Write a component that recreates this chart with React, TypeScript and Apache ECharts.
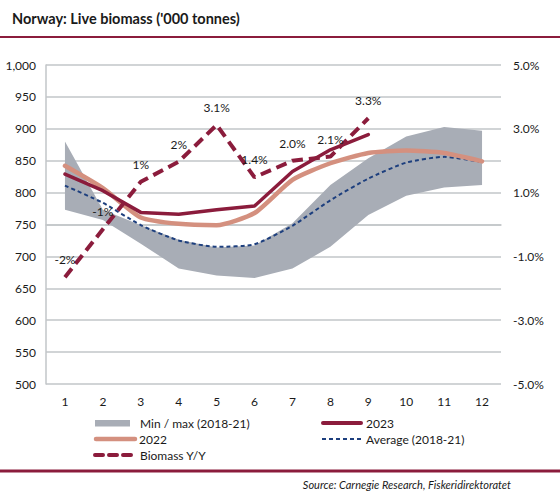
import React, { useEffect, useRef } from "react";
import * as echarts from "echarts";

const months = ["1", "2", "3", "4", "5", "6", "7", "8", "9", "10", "11", "12"];
const bandMax = [880, 773, 749, 726, 714, 717, 752, 812, 854, 888, 903, 897];
const bandMin = [773, 757, 720, 681, 670, 666, 681, 715, 765, 795, 808, 812];
const average = [811, 784, 749, 725, 715, 719, 748, 788, 822, 847, 856, 848];
const y2022 = [842, 807, 761, 751, 749, 768, 820, 846, 862, 866, 862, 849];
const y2023 = [829, 803, 769, 766, 773, 779, 833, 867, 891, null, null, null];
const biomassYY = [-1.65, -0.15, 1.34, 1.97, 3.12, 1.48, 2.0, 2.13, 3.33, null, null, null];
const yyLabels = ["-2%", "-1%", "1%", "2%", "3.1%", "1.4%", "2.0%", "2.1%", "3.3%"];

const MAROON = "#8b1c3c";
const SALMON = "#d4907f";
const NAVY = "#1d3f7e";
const GREY = "#a8adb6";
const GRID = "#c2c6c9";
const FONT = "Lato, 'Open Sans', sans-serif";

export default function App() {
  const ref = useRef<HTMLDivElement>(null);
  useEffect(() => {
    if (!ref.current) return;
    const chart = echarts.init(ref.current, undefined, { renderer: "svg" });
    const range = bandMax.map((v, i) => v - bandMin[i]);
    const txt = (text: string, x: number, y: number, extra: any = {}) => ({
      type: "text",
      style: {
        text,
        x,
        y,
        fill: "#1a1a1a",
        font: `12px ${FONT}`,
        verticalAlign: "middle",
        align: "left",
        ...extra,
      },
    });
    chart.setOption({
      animation: false,
      backgroundColor: "#ffffff",
      textStyle: { fontFamily: FONT },
      grid: { left: 46, right: 59, top: 65, bottom: 118, containLabel: false },
      xAxis: {
        type: "category",
        data: months,
        boundaryGap: true,
        axisTick: { show: false },
        axisLine: { show: true, lineStyle: { color: GRID, width: 1.5 } },
        axisLabel: { color: "#1a1a1a", fontSize: 12, margin: 11, fontFamily: FONT },
      },
      yAxis: [
        {
          type: "value",
          min: 500,
          max: 1000,
          interval: 50,
          axisLine: { show: true, lineStyle: { color: GRID, width: 1.5 } },
          axisTick: { show: false },
          splitLine: { show: true, lineStyle: { color: GRID, width: 1.5 } },
          axisLabel: {
            color: "#1a1a1a",
            fontSize: 12,
            margin: 10,
            fontFamily: FONT,
            formatter: (v: number) => v.toLocaleString("en-US"),
          },
        },
        {
          type: "value",
          min: -5,
          max: 5,
          interval: 1,
          axisLine: { show: false },
          axisTick: { show: false },
          splitLine: { show: false },
          axisLabel: {
            color: "#1a1a1a",
            fontSize: 12,
            margin: 12,
            fontFamily: FONT,
            formatter: (v: number) => (Math.round(v) % 2 !== 0 ? v.toFixed(1) + "%" : ""),
          },
        },
      ],
      series: [
        {
          name: "Min",
          type: "line",
          data: bandMin,
          stack: "band",
          symbol: "none",
          silent: true,
          lineStyle: { width: 0, opacity: 0 },
          z: 1,
        },
        {
          name: "Min / max (2018-21)",
          type: "line",
          data: range,
          stack: "band",
          symbol: "none",
          silent: true,
          lineStyle: { width: 0, opacity: 0 },
          areaStyle: { color: GREY, opacity: 1 },
          z: 1,
        },
        {
          name: "Average (2018-21)",
          type: "line",
          data: average,
          symbol: "none",
          smooth: 0.2,
          lineStyle: { color: NAVY, width: 2, type: [4, 3] },
          z: 3,
        },
        {
          name: "2022",
          type: "line",
          data: y2022,
          symbol: "none",
          smooth: 0.2,
          lineStyle: { color: SALMON, width: 4.5, cap: "round" },
          z: 4,
        },
        {
          name: "2023",
          type: "line",
          data: y2023,
          symbol: "none",
          lineStyle: { color: MAROON, width: 3.5, cap: "round" },
          z: 5,
        },
        {
          name: "Biomass Y/Y",
          type: "line",
          yAxisIndex: 1,
          data: biomassYY,
          symbol: "circle",
          symbolSize: 1,
          itemStyle: { color: "transparent", borderWidth: 0 },
          lineStyle: { color: MAROON, width: 4, type: [11, 6] },
          label: {
            show: true,
            position: "top",
            distance: 11,
            color: "#1a1a1a",
            fontSize: 12,
            fontFamily: FONT,
            formatter: (p: any) => yyLabels[p.dataIndex] ?? "",
          },
          z: 6,
        },
      ],
      graphic: [
        txt("Norway: Live biomass ('000 tonnes)", 12, 18, { font: `bold 14.5px ${FONT}` }),
        {
          type: "line",
          shape: { x1: 0, y1: 37, x2: 560, y2: 37 },
          style: { stroke: MAROON, lineWidth: 2 },
        },
        {
          type: "line",
          shape: { x1: 0, y1: 471, x2: 560, y2: 471 },
          style: { stroke: MAROON, lineWidth: 3 },
        },
        txt("Source: Carnegie Research, Fiskeridirektoratet", 511, 484, {
          font: `italic 11px ${FONT}`,
          align: "right",
        }),
        {
          type: "rect",
          shape: { x: 95, y: 420, width: 35, height: 6.5 },
          style: { fill: GREY },
        },
        txt("Min / max (2018-21)", 140, 423),
        {
          type: "line",
          shape: { x1: 323, y1: 423, x2: 361, y2: 423 },
          style: { stroke: MAROON, lineWidth: 4, lineCap: "round" },
        },
        txt("2023", 366, 423),
        {
          type: "line",
          shape: { x1: 96, y1: 439, x2: 135, y2: 439 },
          style: { stroke: SALMON, lineWidth: 4.5, lineCap: "round" },
        },
        txt("2022", 139, 439),
        {
          type: "line",
          shape: { x1: 322, y1: 439, x2: 362, y2: 439 },
          style: { stroke: NAVY, lineWidth: 2, lineDash: [4, 3] },
        },
        txt("Average (2018-21)", 366, 439),
        {
          type: "line",
          shape: { x1: 95, y1: 455, x2: 136, y2: 455 },
          style: { stroke: MAROON, lineWidth: 4, lineDash: [8, 6], lineCap: "round" },
        },
        txt("Biomass Y/Y", 140, 455),
      ],
    });
    return () => chart.dispose();
  }, []);
  return (
    <div
      ref={ref}
      style={{ position: "absolute", left: 0, top: 0, width: 560, height: 502 }}
    />
  );
}
